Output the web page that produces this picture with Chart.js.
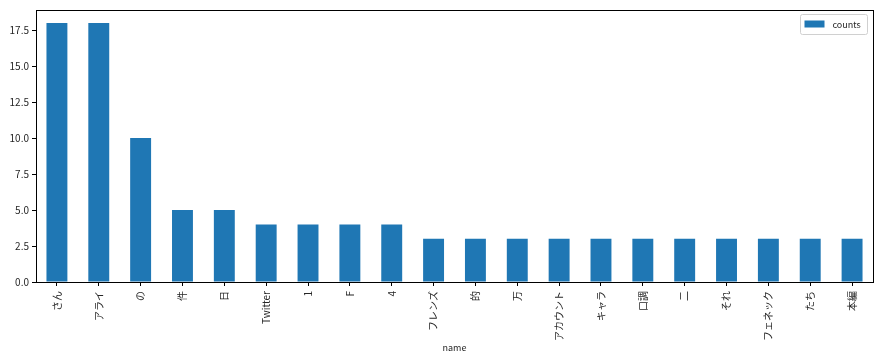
<!DOCTYPE html>
<html>
<head>
<meta charset="utf-8">
<script src="https://cdn.jsdelivr.net/npm/chart.js@4/dist/chart.umd.min.js"></script>
<style>
    html, body { margin: 0; padding: 0; background: #ffffff; }
    #wrap { width: 883px; height: 359px; position: relative; }
</style>
</head>
<body>
<div id="wrap"><canvas id="countsChart"></canvas></div>
<script>
const categories = ['さん', 'アライ', 'の', '件', '日', 'Twitter', '1', 'F', '4', 'フレンズ',
    '的', '万', 'アカウント', 'キャラ', '口調', '二', 'それ', 'フェネック', 'たち', '本編'];
const counts = [18, 18, 10, 5, 5, 4, 4, 4, 4, 3, 3, 3, 3, 3, 3, 3, 3, 3, 3, 3];
const yTicks = [0, 2.5, 5, 7.5, 10, 12.5, 15, 17.5];
const seriesName = 'counts';
const xTitle = 'name';

const fontFamily = '"Noto Sans CJK JP", "DejaVu Sans", sans-serif';
const barColor = '#1f77b4';
const textColor = '#262626';

const framePlugin = {
    id: 'frame',
    afterDraw(chart) {
        const area = chart.chartArea;
        const ctx = chart.ctx;
        ctx.save();
        ctx.strokeStyle = '#000000';
        ctx.lineWidth = 1;
        ctx.strokeRect(Math.round(area.left) + 0.5, Math.round(area.top) + 0.5,
            Math.round(area.right - area.left), Math.round(area.bottom - area.top));

        // legend box in upper right corner
        const boxW = 67, boxH = 20;
        const bx = Math.round(area.right) - 6 - boxW + 0.5;
        const by = Math.round(area.top) + 4.5;
        ctx.fillStyle = 'rgba(255,255,255,0.8)';
        ctx.strokeStyle = '#d0d0d0';
        ctx.beginPath();
        ctx.roundRect(bx, by, boxW, boxH, 2);
        ctx.fill();
        ctx.stroke();
        ctx.fillStyle = barColor;
        ctx.fillRect(bx + 4, by + 6, 20, 7);
        ctx.fillStyle = textColor;
        ctx.font = '9px ' + fontFamily;
        ctx.textBaseline = 'middle';
        ctx.textAlign = 'left';
        ctx.fillText(chart.data.datasets[0].label, bx + 32, by + 10);
        ctx.restore();
    }
};

new Chart(document.getElementById('countsChart'), {
    type: 'bar',
    data: {
        labels: categories,
        datasets: [{
            label: seriesName,
            data: counts,
            backgroundColor: barColor,
            borderWidth: 0,
            categoryPercentage: 1,
            barPercentage: 0.5
        }]
    },
    options: {
        responsive: true,
        maintainAspectRatio: false,
        animation: false,
        layout: {
            padding: { left: 0, right: 10, top: 10, bottom: 0 }
        },
        plugins: {
            legend: { display: false },
            tooltip: { enabled: false }
        },
        scales: {
            x: {
                offset: true,
                grid: {
                    offset: false,
                    drawOnChartArea: false,
                    drawTicks: true,
                    tickLength: 4,
                    color: '#000000'
                },
                border: { display: false },
                ticks: {
                    autoSkip: false,
                    minRotation: 90,
                    maxRotation: 90,
                    color: textColor,
                    padding: 5,
                    font: { family: fontFamily, size: 10 }
                },
                title: {
                    display: true,
                    text: xTitle,
                    color: textColor,
                    padding: { top: 0, bottom: 6 },
                    font: { family: fontFamily, size: 9 }
                },
                afterFit(scale) {
                    scale.height = 77;
                }
            },
            y: {
                min: 0,
                max: 18.9,
                afterBuildTicks(scale) {
                    scale.ticks = yTicks.map(v => ({ value: v }));
                },
                grid: {
                    drawOnChartArea: false,
                    drawTicks: true,
                    tickLength: 4,
                    color: '#000000'
                },
                border: { display: false },
                ticks: {
                    color: textColor,
                    padding: 3,
                    font: { family: fontFamily, size: 10 },
                    callback: v => Number(v).toFixed(1)
                },
                afterFit(scale) {
                    scale.width = 36;
                }
            }
        }
    },
    plugins: [framePlugin]
});
</script>
</body>
</html>
